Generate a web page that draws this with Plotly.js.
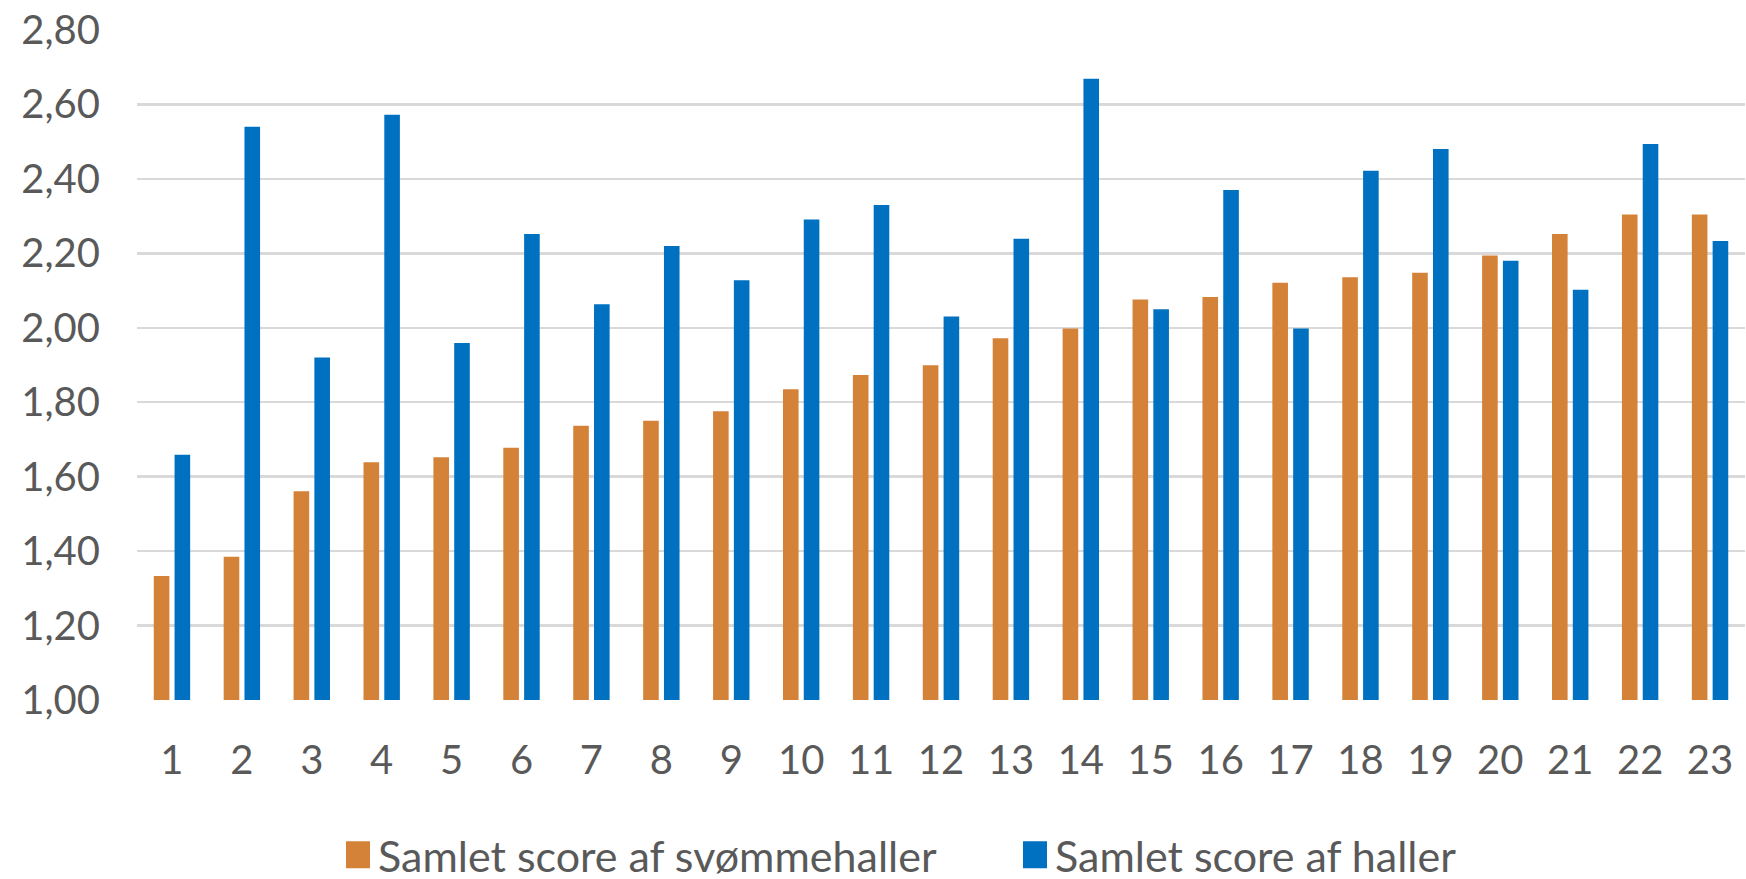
<!DOCTYPE html>
<html>
<head>
<meta charset="utf-8">
<script src="https://cdn.plot.ly/plotly-3.0.1.min.js"></script>
<style>
html,body{margin:0;padding:0;background:#ffffff;}
#chart{width:1746px;height:879px;}
</style>
</head>
<body>
<div id="chart"></div>
<script>
// ---- data ----
const categories = ['1','2','3','4','5','6','7','8','9','10','11','12','13','14','15','16','17','18','19','20','21','22','23'];
const svommehallerScore = [1.333,1.385,1.561,1.639,1.652,1.678,1.737,1.750,1.776,1.835,1.873,1.899,1.972,1.998,2.076,2.083,2.121,2.136,2.148,2.194,2.252,2.304,2.304];
const hallerScore = [1.659,2.540,1.920,2.572,1.959,2.252,2.063,2.220,2.128,2.291,2.330,2.030,2.239,2.669,2.050,2.370,1.998,2.422,2.480,2.180,2.102,2.494,2.233];
const seriesNames = ['Samlet score af svømmehaller','Samlet score af haller'];
const yTickValues = [1.0,1.2,1.4,1.6,1.8,2.0,2.2,2.4,2.6,2.8];

const FONT = 'Lato, "Open Sans", sans-serif';
const TEXT = '#595959';

const traces = [
  {type:'bar', name:seriesNames[0], x:categories, y:svommehallerScore,
   marker:{color:'#D48237'}, hoverinfo:'x+y'},
  {type:'bar', name:seriesNames[1], x:categories, y:hallerScore,
   marker:{color:'#0070C0'}, hoverinfo:'x+y'}
];

const layout = {
  width:1746, height:879,
  paper_bgcolor:'#ffffff', plot_bgcolor:'#ffffff',
  separators:',.',
  margin:{l:137, r:1, t:30, b:179, pad:0, autoexpand:false},
  barmode:'group', bargap:0.405, bargroupgap:0.25,
  font:{family:FONT, size:40, color:TEXT},
  xaxis:{type:'category', showgrid:false, zeroline:false, showline:false,
         ticks:'', ticklabelstandoff:33, automargin:false,
         tickfont:{family:FONT, size:40, color:TEXT}},
  yaxis:{range:[1,2.8], tickvals:yTickValues, tickformat:'.2f',
         showgrid:true, gridcolor:'#D9D9D9', gridwidth:2.5, automargin:false,
         zeroline:false, showline:false, ticks:'', ticklabelstandoff:36,
         tickfont:{family:FONT, size:40, color:TEXT}},
  showlegend:true,
  legend:{orientation:'h', x:0.125, xanchor:'left', y:-0.231, yanchor:'middle',
          entrywidth:632, entrywidthmode:'pixels',
          font:{family:FONT, size:43, color:TEXT}, bgcolor:'rgba(0,0,0,0)',
          traceorder:'normal'}
};

Plotly.newPlot('chart', traces, layout, {displayModeBar:false, staticPlot:true}).then(function(){
  document.querySelectorAll('#chart .legendpoints path').forEach(function(p){
    p.setAttribute('d','M12,13.5H-12V-13.5H12Z');
  });
});
</script>
</body>
</html>
